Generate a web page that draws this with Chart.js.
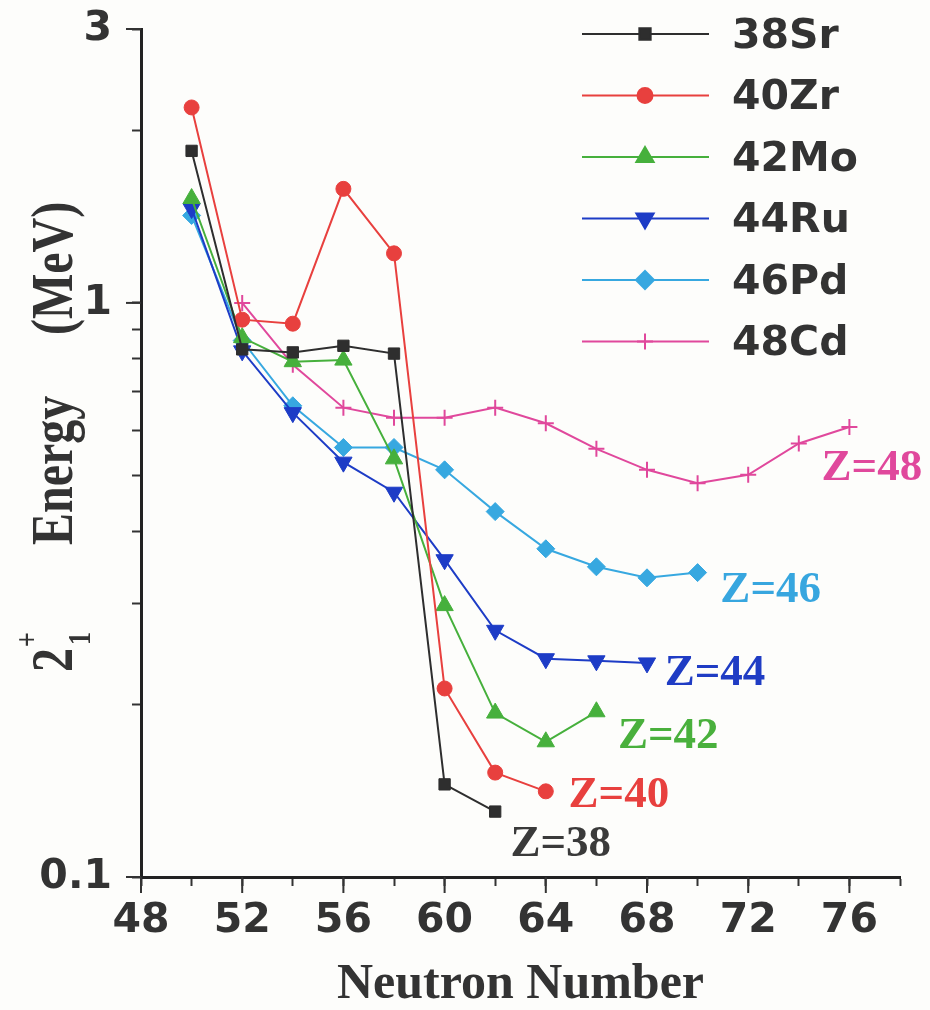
<!DOCTYPE html>
<html>
<head>
<meta charset="utf-8">
<script src="https://cdn.jsdelivr.net/npm/chart.js@4.4.1/dist/chart.umd.min.js"></script>
<style>
  html, body { margin: 0; padding: 0; background: #fdfdfb; }
</style>
</head>
<body>
<canvas id="chart" width="930" height="1010"></canvas>
<script>
// isotope chains, 2+1 energies in MeV
const isotopes = ['38Sr', '40Zr', '42Mo', '44Ru', '46Pd', '48Cd'];
const zNames = ['Z=38', 'Z=40', 'Z=42', 'Z=44', 'Z=46', 'Z=48'];

const neutronSr = [50, 52, 54, 56, 58, 60, 62];
const energySr = [1.84, 0.83, 0.82, 0.842, 0.816, 0.145, 0.130];

const neutronZr = [50, 52, 54, 56, 58, 60, 62, 64];
const energyZr = [2.19, 0.935, 0.92, 1.58, 1.22, 0.213, 0.152, 0.141];

const neutronMo = [50, 52, 54, 56, 58, 60, 62, 64, 66];
const energyMo = [1.52, 0.87, 0.79, 0.795, 0.535, 0.297, 0.193, 0.172, 0.194];

const neutronRu = [50, 52, 54, 56, 58, 60, 62, 64, 66, 68];
const energyRu = [1.46, 0.825, 0.644, 0.528, 0.468, 0.357, 0.269, 0.240, 0.238, 0.236];

const neutronPd = [50, 52, 54, 56, 58, 60, 62, 64, 66, 68, 70];
const energyPd = [1.42, 0.86, 0.662, 0.56, 0.56, 0.512, 0.433, 0.373, 0.347, 0.332, 0.339];

const neutronCd = [52, 54, 56, 58, 60, 62, 64, 66, 68, 70, 72, 74, 76];
const energyCd = [1.0, 0.78, 0.657, 0.631, 0.631, 0.657, 0.617, 0.557, 0.512, 0.485, 0.502, 0.569, 0.608];

const xTicks = [48, 50, 52, 54, 56, 58, 60, 62, 64, 66, 68, 70, 72, 74, 76, 78];
const xTickLabels = [48, 52, 56, 60, 64, 68, 72, 76];
const yTicks = [0.1, 0.2, 0.3, 0.4, 0.5, 0.6, 0.7, 0.8, 0.9, 1, 2, 3];
const yTickLabels = [0.1, 1, 3];

// where the "Z=.." captions sit, in (N, E)
const zLabelAnchors = [[62.6, 0.114], [64.9, 0.139], [66.85, 0.176], [68.7, 0.226], [70.9, 0.316], [74.9, 0.516]];

const colors = ['#2e2e2e', '#e8403e', '#46b03c', '#1d3cc6', '#37a8e0', '#e0489c'];
const labelColors = ['#3a3a3a', '#e8403e', '#49b03c', '#1f3cc4', '#37a6df', '#e0489c'];
const markers = [
  { pointStyle: 'rect', radius: 8, rotation: 0 },
  { pointStyle: 'circle', radius: 7.5, rotation: 0 },
  { pointStyle: 'triangle', radius: 10, rotation: 0 },
  { pointStyle: 'triangle', radius: 10, rotation: 180 },
  { pointStyle: 'rectRot', radius: 9, rotation: 0 },
  { pointStyle: 'cross', radius: 8, rotation: 0 }
];

const sansBold = '"DejaVu Sans", "Liberation Sans", Arial, sans-serif';
const serif = '"Liberation Serif", "Times New Roman", serif';

const series = [
  [neutronSr, energySr], [neutronZr, energyZr], [neutronMo, energyMo],
  [neutronRu, energyRu], [neutronPd, energyPd], [neutronCd, energyCd]
];

const datasets = series.map(function (s, i) {
  const m = markers[i];
  return {
    label: isotopes[i],
    data: s[0].map(function (n, k) { return { x: n, y: s[1][k] }; }),
    borderColor: colors[i],
    backgroundColor: colors[i],
    borderWidth: 2,
    tension: 0,
    pointStyle: m.pointStyle,
    pointRadius: m.radius,
    pointRotation: m.rotation,
    pointBorderWidth: m.pointStyle === 'cross' ? 2 : 1,
    pointBackgroundColor: colors[i],
    pointBorderColor: colors[i]
  };
});

const isLabel = function (list, v) {
  return list.some(function (t) { return Math.abs(t - v) < 1e-6; });
};

// longer tick marks at labelled values
const majorTicks = {
  id: 'majorTicks',
  afterDraw(chart) {
    const ctx = chart.ctx;
    const xs = chart.scales.x, ys = chart.scales.y;
    const area = chart.chartArea;
    ctx.save();
    ctx.strokeStyle = '#333';
    ctx.lineWidth = 2;
    xTickLabels.forEach(function (v) {
      const px = xs.getPixelForValue(v);
      ctx.beginPath(); ctx.moveTo(px, area.bottom); ctx.lineTo(px, area.bottom + 16); ctx.stroke();
    });
    yTickLabels.forEach(function (v) {
      const py = ys.getPixelForValue(v);
      ctx.beginPath(); ctx.moveTo(area.left, py); ctx.lineTo(area.left - 15, py); ctx.stroke();
    });
    ctx.restore();
  }
};

// legend drawn as line + marker + name
const lineLegend = {
  id: 'lineLegend',
  afterDraw(chart) {
    const ctx = chart.ctx;
    ctx.save();
    ctx.font = 'bold 41px ' + sansBold;
    ctx.textBaseline = 'middle';
    ctx.textAlign = 'left';
    isotopes.forEach(function (name, i) {
      const y = 34 + i * 61.5;
      ctx.strokeStyle = colors[i];
      ctx.fillStyle = colors[i];
      ctx.lineWidth = 2;
      ctx.beginPath(); ctx.moveTo(582, y); ctx.lineTo(709, y); ctx.stroke();
      const m = markers[i];
      Chart.helpers.drawPoint(ctx, {
        pointStyle: m.pointStyle, radius: m.radius, rotation: m.rotation,
        borderWidth: m.pointStyle === 'cross' ? 2 : 1
      }, 645, y);
      ctx.fillStyle = '#333';
      ctx.fillText(name, 732, y + 3);
    });
    ctx.restore();
  }
};

// Z=.. captions next to each chain
const zCaptions = {
  id: 'zCaptions',
  afterDraw(chart) {
    const ctx = chart.ctx;
    const xs = chart.scales.x, ys = chart.scales.y;
    ctx.save();
    ctx.font = 'bold 45px ' + serif;
    ctx.textBaseline = 'middle';
    ctx.textAlign = 'left';
    zNames.forEach(function (t, i) {
      ctx.fillStyle = labelColors[i];
      ctx.fillText(t, xs.getPixelForValue(zLabelAnchors[i][0]), ys.getPixelForValue(zLabelAnchors[i][1]));
    });
    ctx.restore();
  }
};

// rotated y title with 2+1
const yTitle = {
  id: 'yTitle',
  afterDraw(chart) {
    const ctx = chart.ctx;
    ctx.save();
    ctx.translate(72, 0);
    ctx.rotate(-Math.PI / 2);
    ctx.scale(1, 1.25);
    ctx.fillStyle = '#333';
    ctx.textBaseline = 'alphabetic';
    ctx.textAlign = 'left';
    const big = 'bold 48px ' + serif;
    const small = 'bold 26px ' + serif;
    ctx.font = big;
    ctx.fillText('2', -672, 0);
    const w2 = ctx.measureText('2').width;
    ctx.font = small;
    ctx.fillText('+', -672 + w2 + 1, -28);
    ctx.fillText('1', -672 + w2 + 3, 14);
    ctx.font = big;
    ctx.fillText('Energy', -545, 0);
    ctx.fillText('(MeV)', -335, 0);
    ctx.restore();
  }
};

new Chart(document.getElementById('chart'), {
  type: 'line',
  data: { datasets: datasets },
  plugins: [majorTicks, lineLegend, zCaptions, yTitle],
  options: {
    responsive: false,
    animation: false,
    devicePixelRatio: 1,
    layout: { padding: { top: 29, right: 30, bottom: 0, left: 0 } },
    plugins: { legend: { display: false }, tooltip: { enabled: false } },
    scales: {
      x: {
        type: 'linear',
        position: 'bottom',
        min: 48,
        max: 78,
        afterBuildTicks: function (scale) {
          scale.ticks = xTicks.map(function (v) { return { value: v }; });
        },
        afterFit: function (scale) { scale.height = 133; },
        ticks: {
          autoSkip: false,
          maxRotation: 0,
          padding: 11,
          color: '#333',
          font: { family: sansBold, weight: 'bold', size: 41, lineHeight: 1.2 },
          callback: function (v) { return isLabel(xTickLabels, v) ? String(v) : ''; }
        },
        grid: { drawOnChartArea: false, tickLength: 9, tickWidth: 2, tickColor: '#333' },
        border: { color: '#222', width: 3 },
        title: {
          display: true,
          text: 'Neutron Number',
          color: '#333',
          padding: { top: 0, bottom: 0 },
          font: { family: serif, weight: 'bold', size: 50, lineHeight: 1 }
        }
      },
      y: {
        type: 'logarithmic',
        min: 0.1,
        max: 3,
        afterBuildTicks: function (scale) {
          scale.ticks = yTicks.map(function (v) { return { value: v }; });
        },
        afterFit: function (scale) { scale.width = 141; },
        ticks: {
          autoSkip: false,
          padding: 20,
          color: '#333',
          font: { family: sansBold, weight: 'bold', size: 41, lineHeight: 0.1 },
          callback: function (v) { return isLabel(yTickLabels, v) ? String(v) : ''; }
        },
        grid: { drawOnChartArea: false, tickLength: 9, tickWidth: 2, tickColor: '#333' },
        border: { color: '#222', width: 3 }
      }
    }
  }
});
</script>
</body>
</html>
